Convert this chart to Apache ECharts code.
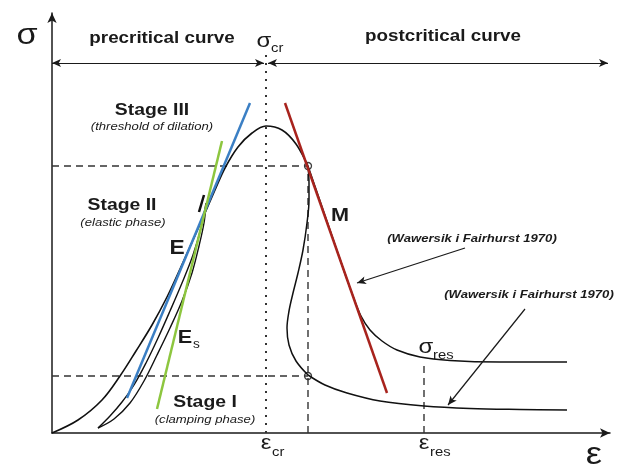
<!DOCTYPE html>
<html>
<head>
<meta charset="utf-8">
<script src="https://cdn.jsdelivr.net/npm/echarts@6/dist/echarts.min.js"></script>
<style>
    html, body { margin: 0; padding: 0; background: #fff; }
    #chart { width: 625px; height: 467px; }
</style>
</head>
<body>
<div id="chart"></div>
<script type="text/javascript">
    // strain (x) / stress (y), in the figure's own units, origin at the axes corner
    var mainCurve = [[0,0],[26,13],[50,33],[68,57],[84,82],[100,108],[115,136],[128,164],[141,193],[153,220],
        [163,243],[173,265],[186,286],[200,300],[214,307],[230,303],[244,289],[256,267]];
    // unloading / reloading loop
    var loopLeft = [[46,5],[58,17],[70,31],[82,48],[94,70],[106,95],[118,122],[130,150],[141,178],[149,205],[154,230]];
    var loopRight = [[46,5],[62,14],[78,30],[92,52],[105,78],[118,105],[130,132],[140,160],[147,187],[152,210],[154,228]];
    var loopTop = [[152,238],[147,221]];
    // class II branch (snap back) and class I branch after the peak
    var branchII = [[256,267],[257,250],[257,233],[255,210],[251,183],[246,160],[241,140],[237,122],[235,105],
        [237,88],[244,72],[256,58]];
    var branchIItail = [[256,58],[273,48],[295,40],[328,32],[372,27],[418,24.5],[468,23.5],[515,23]];
    var branchI = [[256,267],[267,235],[279,200],[290,168],[301,137],[309,117],[318,103],[330,92],[345,83],
        [368,76],[398,72.5],[448,71],[515,71]];
    // tangent moduli
    var lineM = [[233,330],[335,40]];
    var lineE = [[198,330],[75,35]];
    var lineEs = [[170,292],[105,24]];
    // characteristic points
    var epsCr = 214, epsRes = 372, epsM = 256;
    var sigTop = 267, sigLow = 57, sigRes = 70;
    var marks = [[256,267],[256,57]];
    var arrowTop = 370;
    var note1 = [[413,185],[305,150]];
    var note2 = [[473,124],[396,28]];

    var chart = echarts.init(document.getElementById('chart'));
    var FONT = "'Liberation Sans', Arial, sans-serif";

    function curve(data, color, width) {
        return {
            type: 'line', data: data, showSymbol: false, smooth: 0.35, silent: true,
            lineStyle: { color: color, width: width }
        };
    }
    function seg(data, color, width, type) {
        return {
            type: 'line', data: data, showSymbol: false, silent: true,
            lineStyle: { color: color, width: width, type: type || 'solid' }
        };
    }
    function txt(x, y, text, size, weight, style, align) {
        return {
            type: 'text', x: x, y: y, scaleX: 1.14, silent: true,
            style: {
                text: text, fill: '#1a1a1a', align: align || 'center', verticalAlign: 'middle',
                font: (style || 'normal') + ' ' + (weight || 'normal') + ' ' + size + 'px ' + FONT
            }
        };
    }
    function arrowLine(p1, p2, sym) {
        return [{ coord: p1, symbol: sym[0] }, { coord: p2, symbol: sym[1] }];
    }

    var options = {
        animation: false,
        grid: { left: 52, right: 15, top: 13, bottom: 34 },
        xAxis: {
            type: 'value', min: 0, max: 558,
            axisLine: { show: true, onZero: false, symbol: ['none', 'arrow'], symbolSize: [7, 10],
                lineStyle: { color: '#1a1a1a', width: 1.5 } },
            axisTick: { show: false }, axisLabel: { show: false }, splitLine: { show: false }
        },
        yAxis: {
            type: 'value', min: 0, max: 420,
            axisLine: { show: true, onZero: false, symbol: ['none', 'arrow'], symbolSize: [7, 10],
                lineStyle: { color: '#1a1a1a', width: 1.5 } },
            axisTick: { show: false }, axisLabel: { show: false }, splitLine: { show: false }
        },
        series: [
            seg([[0, sigTop], [epsM, sigTop]], '#333', 1.4, [7, 5]),
            seg([[0, sigLow], [epsM, sigLow]], '#333', 1.4, [7, 5]),
            seg([[epsM, 0], [epsM, sigTop]], '#333', 1.4, [7, 5]),
            seg([[epsRes, 0], [epsRes, sigRes]], '#333', 1.4, [7, 5]),
            seg([[epsCr, 0], [epsCr, 383]], '#333', 2, [2, 6]),
            curve(mainCurve, '#111', 1.6),
            curve(loopLeft, '#111', 1.4),
            curve(loopRight, '#111', 1.4),
            seg(loopTop, '#111', 2.5),
            curve(branchII, '#111', 1.5),
            curve(branchIItail, '#111', 1.5),
            curve(branchI, '#111', 1.5),
            seg(lineE, '#3b7fc4', 2.5),
            seg(lineEs, '#8dc63f', 2.5),
            seg(lineM, '#a8231d', 2.5),
            {
                type: 'scatter', data: marks, symbol: 'circle', symbolSize: 7, silent: true,
                itemStyle: { color: '#fff', borderColor: '#111', borderWidth: 1.3 },
                markLine: {
                    silent: true, animation: false, symbolSize: [6, 9], label: { show: false },
                    lineStyle: { color: '#1a1a1a', width: 1.2, type: 'solid' },
                    data: [
                        arrowLine([0, arrowTop], [212, arrowTop], ['arrow', 'arrow']),
                        arrowLine([216, arrowTop], [556, arrowTop], ['arrow', 'arrow']),
                        arrowLine(note1[0], note1[1], ['none', 'arrow']),
                        arrowLine(note2[0], note2[1], ['none', 'arrow'])
                    ]
                }
            }
        ],
        graphic: [
            txt(27, 36, 'σ', 30),
            txt(162, 38, 'precritical curve', 16.5, 'bold'),
            txt(264, 41, 'σ', 21),
            txt(271, 48, 'cr', 13, 'normal', 'normal', 'left'),
            txt(443, 36, 'postcritical curve', 16.5, 'bold'),
            txt(152, 110, 'Stage III', 17, 'bold'),
            txt(152, 127, '(threshold of dilation)', 11.5, 'normal', 'italic'),
            txt(122, 205, 'Stage II', 17, 'bold'),
            txt(123, 223, '(elastic phase)', 11.5, 'normal', 'italic'),
            txt(177, 248, 'E', 20, 'bold'),
            txt(185, 338, 'E', 19, 'bold'),
            txt(193, 345, 's', 12, 'normal', 'normal', 'left'),
            txt(205, 402, 'Stage I', 17, 'bold'),
            txt(205, 420, '(clamping phase)', 11.5, 'normal', 'italic'),
            txt(340, 216, 'M', 19, 'bold'),
            txt(472, 239, '(Wawersik i Fairhurst 1970)', 11.5, 'bold', 'italic'),
            txt(529, 295, '(Wawersik i Fairhurst 1970)', 11.5, 'bold', 'italic'),
            txt(426, 347, 'σ', 21),
            txt(433, 355, 'res', 13, 'normal', 'normal', 'left'),
            txt(266, 443, 'ε', 21),
            txt(272, 452, 'cr', 13, 'normal', 'normal', 'left'),
            txt(424, 443, 'ε', 21),
            txt(430, 452, 'res', 13, 'normal', 'normal', 'left'),
            txt(594, 455, 'ε', 32)
        ]
    };
    chart.setOption(options);
</script>
</body>
</html>
